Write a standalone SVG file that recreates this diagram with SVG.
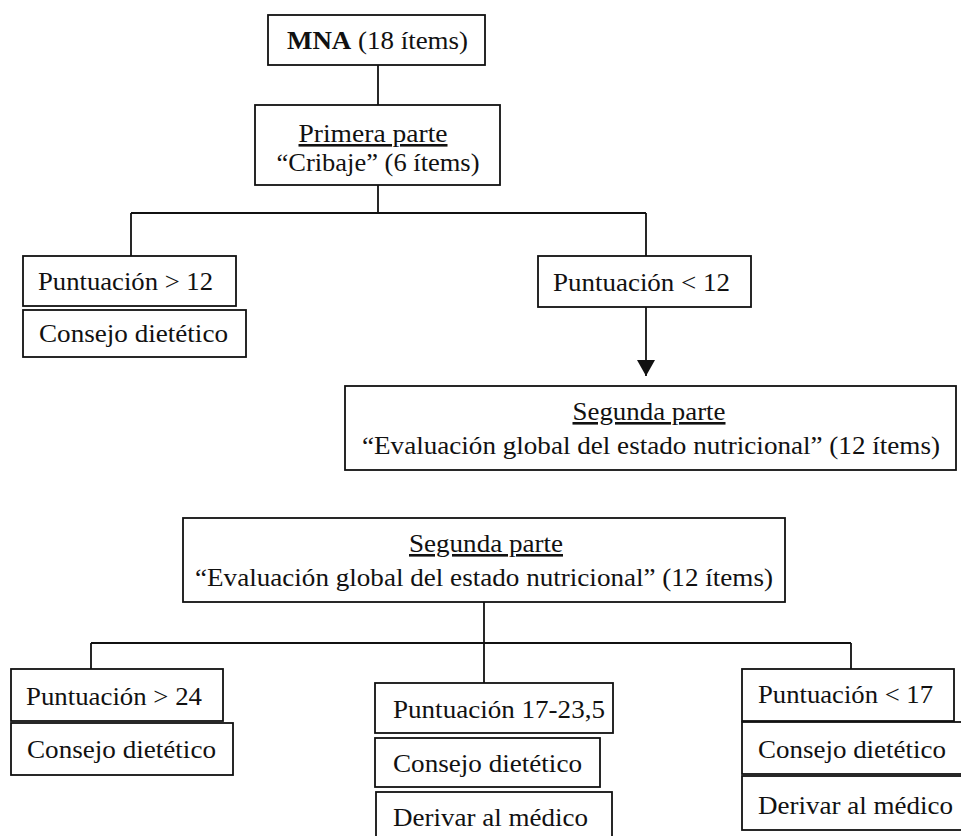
<svg xmlns="http://www.w3.org/2000/svg" width="961" height="836" viewBox="0 0 961 836">
<style>
  .box { fill: #ffffff; stroke: #111111; stroke-width: 1.8; }
  .t { font-family: "Liberation Serif", "Times New Roman", serif; font-size: 26px; fill: #111111; }
  .c { text-anchor: middle; }
  .u { text-decoration: underline; }
  .conn { fill: none; stroke: #111111; stroke-width: 1.8; }
</style>
<defs>
  <marker id="arrow" viewBox="0 0 16 18" refX="16" refY="9" markerWidth="16" markerHeight="18" markerUnits="userSpaceOnUse" orient="auto">
    <polygon points="0,0 16,9 0,18" fill="#111111"/>
  </marker>
</defs>
<rect width="961" height="836" fill="#ffffff"/>

<g id="connectors">
  <path class="conn" d="M378,65 V105"/>
  <path class="conn" d="M378,185 V213 M131,213 H646 M131,213 V256 M646,213 V256"/>
  <path class="conn" d="M646,307 V376" marker-end="url(#arrow)"/>
  <path class="conn" d="M484,602 V643 M91,643 H851 M91,643 V669 M484,643 V683 M851,643 V669"/>
</g>

<g id="n-mna">
  <rect class="box" x="268" y="15" width="217" height="50"/>
  <text class="t" x="287" y="49" textLength="181" lengthAdjust="spacingAndGlyphs"><tspan font-weight="bold">MNA</tspan> (18 ítems)</text>
</g>

<g id="n-primera">
  <rect class="box" x="255" y="105" width="245" height="80"/>
  <text class="t c u" x="373" y="142" textLength="149" lengthAdjust="spacingAndGlyphs">Primera parte</text>
  <text class="t c" x="378" y="171" textLength="203" lengthAdjust="spacingAndGlyphs">“Cribaje” (6 ítems)</text>
</g>

<g id="n-p12-mayor">
  <rect class="box" x="23" y="256" width="213" height="50"/>
  <text class="t" x="38" y="290" textLength="175" lengthAdjust="spacingAndGlyphs">Puntuación &gt; 12</text>
</g>

<g id="n-consejo-1">
  <rect class="box" x="23" y="310" width="223" height="47"/>
  <text class="t" x="39" y="342" textLength="189" lengthAdjust="spacingAndGlyphs">Consejo dietético</text>
</g>

<g id="n-p12-menor">
  <rect class="box" x="538" y="256" width="213" height="51"/>
  <text class="t" x="553" y="291" textLength="177" lengthAdjust="spacingAndGlyphs">Puntuación &lt; 12</text>
</g>

<g id="n-segunda-1">
  <rect class="box" x="345" y="386" width="611" height="84"/>
  <text class="t c u" x="649" y="420" textLength="153" lengthAdjust="spacingAndGlyphs">Segunda parte</text>
  <text class="t c" x="651" y="454" textLength="578" lengthAdjust="spacingAndGlyphs">“Evaluación global del estado nutricional” (12 ítems)</text>
</g>

<g id="n-segunda-2">
  <rect class="box" x="183" y="518" width="602" height="84"/>
  <text class="t c u" x="486" y="552" textLength="154" lengthAdjust="spacingAndGlyphs">Segunda parte</text>
  <text class="t c" x="484" y="586" textLength="578" lengthAdjust="spacingAndGlyphs">“Evaluación global del estado nutricional” (12 ítems)</text>
</g>

<g id="n-p24">
  <rect class="box" x="11" y="669" width="212" height="52"/>
  <text class="t" x="26" y="705" textLength="176" lengthAdjust="spacingAndGlyphs">Puntuación &gt; 24</text>
</g>

<g id="n-consejo-2">
  <rect class="box" x="11" y="723" width="222" height="52"/>
  <text class="t" x="27" y="758" textLength="189" lengthAdjust="spacingAndGlyphs">Consejo dietético</text>
</g>

<g id="n-p17-23">
  <rect class="box" x="375" y="683" width="238" height="50"/>
  <text class="t" x="393" y="718" textLength="212" lengthAdjust="spacingAndGlyphs">Puntuación 17-23,5</text>
</g>

<g id="n-consejo-3">
  <rect class="box" x="375" y="738" width="225" height="49"/>
  <text class="t" x="393" y="772" textLength="189" lengthAdjust="spacingAndGlyphs">Consejo dietético</text>
</g>

<g id="n-derivar-1">
  <rect class="box" x="376" y="792" width="236" height="50"/>
  <text class="t" x="393" y="826" textLength="195" lengthAdjust="spacingAndGlyphs">Derivar al médico</text>
</g>

<g id="n-p17">
  <rect class="box" x="742" y="669" width="212" height="52"/>
  <text class="t" x="758" y="703" textLength="175" lengthAdjust="spacingAndGlyphs">Puntuación &lt; 17</text>
</g>

<g id="n-consejo-4">
  <rect class="box" x="742" y="722" width="230" height="52"/>
  <text class="t" x="758" y="758" textLength="188" lengthAdjust="spacingAndGlyphs">Consejo dietético</text>
</g>

<g id="n-derivar-2">
  <rect class="box" x="742" y="776" width="230" height="54"/>
  <text class="t" x="758" y="814" textLength="195" lengthAdjust="spacingAndGlyphs">Derivar al médico</text>
</g>
</svg>
